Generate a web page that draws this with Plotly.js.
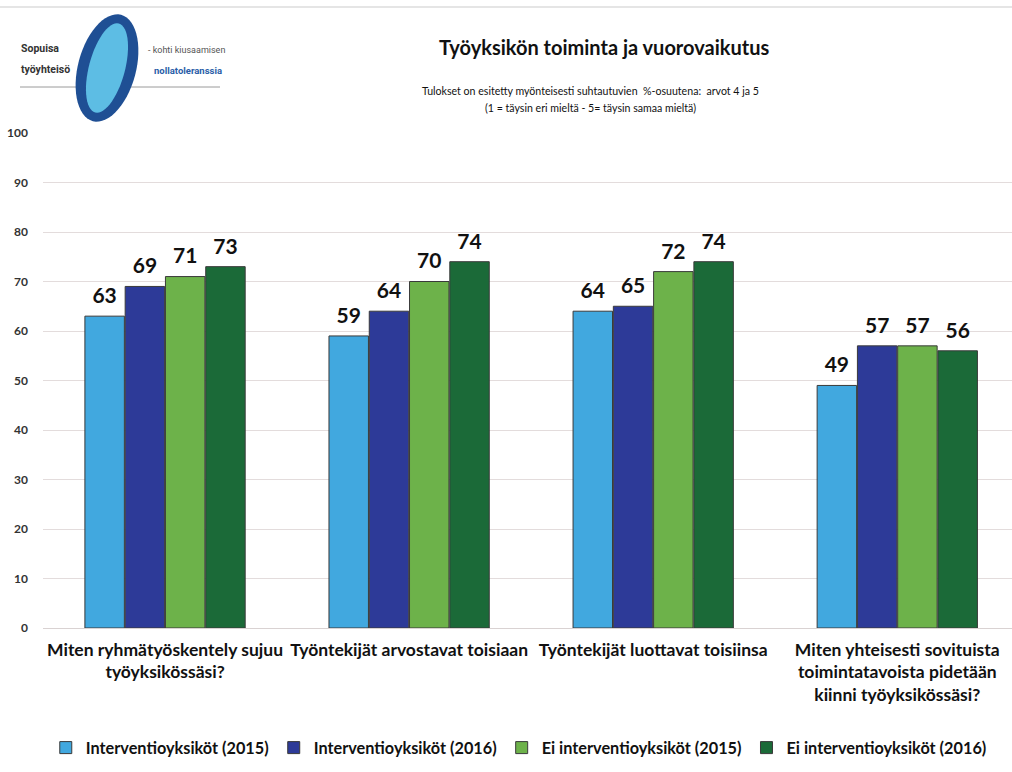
<!DOCTYPE html>
<html><head><meta charset="utf-8">
<script src="https://cdn.plot.ly/plotly-3.0.1.min.js"></script>
<style>body{margin:0;background:#fff}#chart{width:1012px;height:772px}</style>
</head><body><div id="chart"></div>
<script>
const categories = [
  "Miten ryhmätyöskentely sujuu<br>työyksikössäsi?",
  "Työntekijät arvostavat toisiaan",
  "Työntekijät luottavat toisiinsa",
  "Miten yhteisesti sovituista<br>toimintatavoista pidetään<br>kiinni työyksikössäsi?"
];
const seriesNames = [
  "Interventioyksiköt (2015)",
  "Interventioyksiköt (2016)",
  "Ei interventioyksiköt (2015)",
  "Ei interventioyksiköt (2016)"
];
const interv2015 = [63, 59, 64, 49];
const interv2016 = [69, 64, 65, 57];
const ei2015 = [71, 70, 72, 57];
const ei2016 = [73, 74, 74, 56];
const yTicks = [0,10,20,30,40,50,60,70,80,90,100];
const colors = ["#41a8df", "#2d3a98", "#6db24a", "#1b6a38"];

const values = [interv2015, interv2016, ei2015, ei2016];
const FONT = "Lato, 'Open Sans', sans-serif";
const LOGOFONT = "Roboto, 'Liberation Sans', sans-serif";
const traces = values.map((v, i) => ({
  type: "bar",
  name: seriesNames[i],
  x: categories,
  y: v,
  text: v.map(n => '<span style="font-size:21px">' + n + '</span><br><span style="color:rgba(0,0,0,0)">.</span>'),
  textposition: "outside",
  cliponaxis: false,
  textfont: {family: FONT, size: 7, color: "#111", weight: 700},
  marker: {color: colors[i], line: {color: "#3a3a3a", width: 1}},
  hoverinfo: "skip"
}));

function px2x(px) { return (px - 43) / (1012 - 43); }
function py2y(py) { return (628 - py) / 495; }
function ellipsePath(cx, cy, rx, ry, rot) {
  const pts = [];
  for (let k = 0; k <= 60; k++) {
    const t = 2 * Math.PI * k / 60;
    const ex = rx * Math.cos(t), ey = ry * Math.sin(t);
    const X = cx + ex * Math.cos(rot) - ey * Math.sin(rot);
    const Y = cy + ex * Math.sin(rot) + ey * Math.cos(rot);
    pts.push((k ? "L" : "M") + px2x(X).toFixed(5) + "," + py2y(Y).toFixed(5));
  }
  return pts.join(" ") + " Z";
}
function ann(text, px, py, size, color, family, xanchor) {
  return {text: text, xref: "paper", yref: "paper", x: px2x(px), y: py2y(py),
    xanchor: xanchor || "center", yanchor: "middle", showarrow: false,
    font: {family: family || FONT, size: size, color: color}};
}

const layout = {
  width: 1012, height: 772,
  margin: {l: 43, r: 0, t: 133, b: 144},
  paper_bgcolor: "#fff", plot_bgcolor: "#fff",
  barmode: "group",
  bargap: 0.34,
  bargroupgap: 0.02,
  font: {family: FONT, color: "#222"},
  showlegend: true,
  legend: {
    orientation: "h", x: 0.491, xanchor: "center", y: py2y(748), yanchor: "middle",
    font: {family: FONT, size: 16.3, color: "#111", weight: 700},
    itemwidth: 30, tracegroupgap: 0
  },
  xaxis: {
    type: "category",
    range: [-0.5, 3.47],
    tickfont: {family: FONT, size: 17.5, color: "#111", weight: 700},
    showgrid: false, showline: false, ticks: "",
    ticklabelstandoff: 9,
    automargin: false
  },
  yaxis: {
    range: [0, 100],
    tickvals: yTicks,
    ticktext: yTicks.map(String),
    tickfont: {family: FONT, size: 12, color: "#333", weight: 700},
    showgrid: true, gridcolor: "#e3dcdc", gridwidth: 1,
    zeroline: true, zerolinecolor: "#d9d2d2", zerolinewidth: 1,
    showline: false, ticks: "", ticklabelstandoff: 14,
    automargin: false
  },
  shapes: [
    {type: "line", xref: "paper", yref: "paper", x0: px2x(0), x1: px2x(1012), y0: py2y(7), y1: py2y(7),
     line: {color: "#dcdcdc", width: 1.5}},
    {type: "line", xref: "paper", yref: "paper", x0: px2x(20), x1: px2x(220), y0: py2y(87), y1: py2y(87),
     line: {color: "#9a9a9a", width: 1}},
    {type: "path", xref: "paper", yref: "paper", layer: "above",
     path: ellipsePath(107, 68, 29, 55, 0.26), fillcolor: "#1f4f94", line: {width: 0}},
    {type: "path", xref: "paper", yref: "paper", layer: "above",
     path: ellipsePath(107, 68, 18, 46, 0.26), fillcolor: "#5dbde4", line: {width: 0}}
  ],
  annotations: [
    ann("<b>Työyksikön toiminta ja vuorovaikutus</b>", 604, 47, 20, "#111"),
    ann("Tulokset on esitetty myönteisesti suhtautuvien  %-osuutena:  arvot 4 ja 5", 590, 91, 10.6, "#111"),
    ann("(1 = täysin eri mieltä - 5= täysin samaa mieltä)", 590, 108, 10.6, "#111"),
    ann("<b>Sopuisa</b>", 19, 48, 10.5, "#333", LOGOFONT, "left"),
    ann("<b>työyhteisö</b>", 19, 69, 10.5, "#333", LOGOFONT, "left"),
    ann("- kohti kiusaamisen", 146, 50, 9, "#555", LOGOFONT, "left"),
    ann("<b>nollatoleranssia</b>", 152, 70, 9.5, "#2a5ea8", LOGOFONT, "left")
  ]
};

Plotly.newPlot("chart", traces, layout, {displayModeBar: false, staticPlot: true});
</script>
</body></html>
